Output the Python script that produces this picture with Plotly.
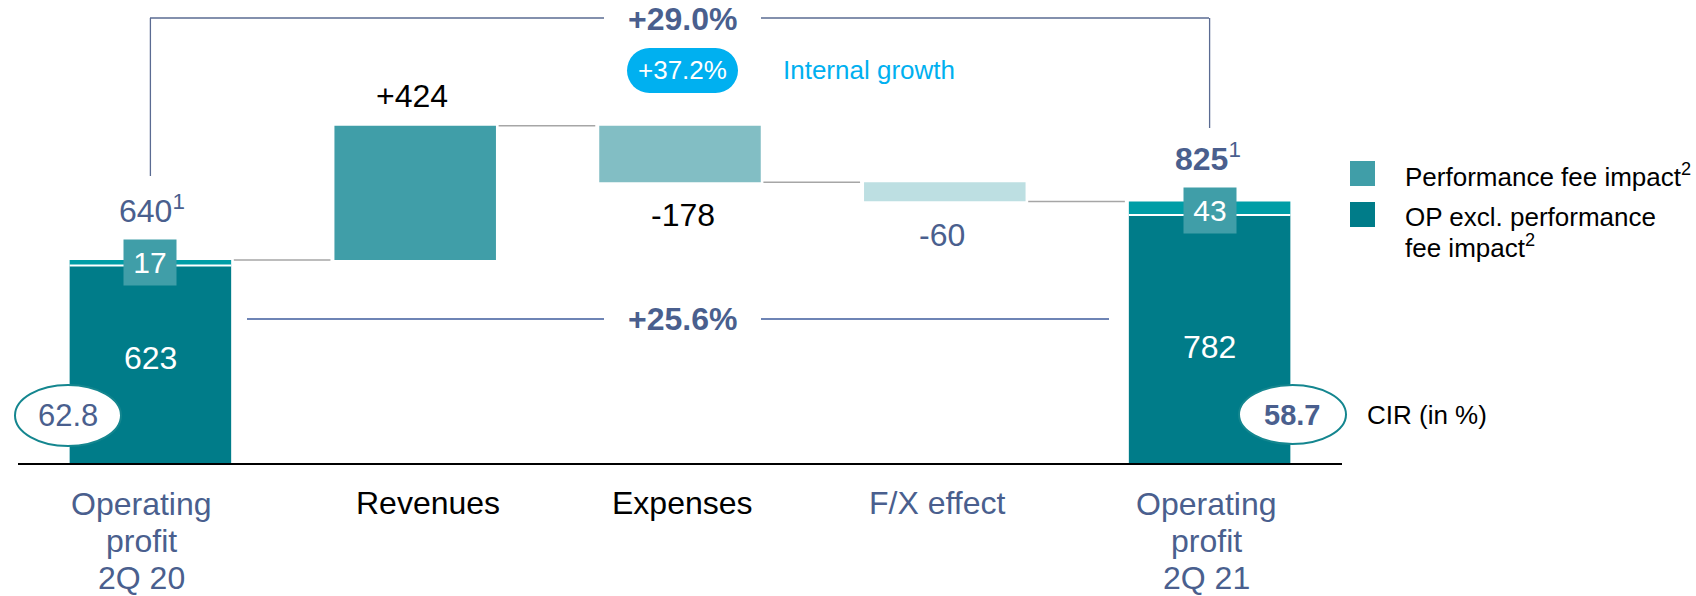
"""Operating profit bridge 2Q 20 -> 2Q 21 (waterfall with CIR bubbles)."""
import plotly.graph_objects as go

# ---- data -----------------------------------------------------------------
categories = ["OP 2Q 20", "Revenues", "Expenses", "F/X effect", "OP 2Q 21"]
label_lines = [
    ["Operating", "profit", "2Q 20"],
    ["Revenues"],
    ["Expenses"],
    ["F/X effect"],
    ["Operating", "profit", "2Q 21"],
]
op_excl_fee = [623, 782]          # OP excl. performance fee impact
perf_fee = [17, 43]               # performance fee impact
op_total = [640, 825]
deltas = [424, -178, -60]         # revenues, expenses, F/X
delta_text = ["+424", "-178", "-60"]
cir = [62.8, 58.7]
growth_total = "+29.0%"
growth_excl_fee = "+25.6%"
growth_internal = "+37.2%"

# ---- style ----------------------------------------------------------------
FONT = "Liberation Sans, Arial, sans-serif"
SLATE = "#4A5F8E"
DARK_TEAL = "#007C89"
STRIPE = "#009DA6"
MID_TEAL = "#409EA8"
DELTA_COLORS = ["#409EA8", "#82BEC4", "#BDDFE2"]
CYAN = "#00B0F0"
LABEL_COLORS = [SLATE, "#000000", "#000000", SLATE, SLATE]

W, H = 1696, 596
L, R, T, B = 18, 354, 0, 133
PW, PH = W - L - R, H - T - B
K = 0.317                       # pixels per EUR m
YMAX = PH / K
BAR_W = 0.61


def px(x):
    return (x - L) / PW


def py(y):
    return (H - B - y) / PH


fig = go.Figure()

# totals (stacked)
tot_x = [0, 4]
fig.add_trace(go.Bar(x=tot_x, y=op_excl_fee, base=[0, 0], width=BAR_W,
                     marker=dict(color=DARK_TEAL, line_width=0)))
fig.add_trace(go.Bar(x=tot_x, y=perf_fee, base=op_excl_fee, width=BAR_W,
                     marker=dict(color=STRIPE, line_width=0)))

# floating deltas
level = op_total[0]
levels = [level]
for i, d in enumerate(deltas):
    lo, hi = sorted([level, level + d])
    fig.add_trace(go.Bar(x=[i + 1], y=[hi - lo], base=[lo], width=BAR_W,
                         marker=dict(color=DELTA_COLORS[i], line_width=0)))
    level += d
    levels.append(level)
levels[-1] = op_total[1]

shapes = []
# white separator between stacked parts
for xi, v in zip(tot_x, op_excl_fee):
    shapes.append(dict(type="line", xref="x", yref="y", x0=xi - BAR_W / 2, x1=xi + BAR_W / 2,
                       y0=v, y1=v, line=dict(color="white", width=2)))
# connectors
for i, v in enumerate(levels):
    shapes.append(dict(type="line", xref="x", yref="y", x0=i + BAR_W / 2 + 0.01,
                       x1=i + 1 - BAR_W / 2 - 0.015, y0=v, y1=v,
                       line=dict(color="#A6A6A6", width=1.5)))

# +29.0% bracket
br_col = "#5A6B92"
shapes += [
    dict(type="line", xref="x", yref="paper", x0=0, x1=0, y0=py(176), y1=py(18),
         line=dict(color=br_col, width=1.3)),
    dict(type="line", xref="x", yref="paper", x0=4, x1=4, y0=py(128), y1=py(18),
         line=dict(color=br_col, width=1.3)),
    dict(type="line", xref="paper", yref="paper", x0=px(150), x1=px(604), y0=py(18), y1=py(18),
         line=dict(color=br_col, width=1.3)),
    dict(type="line", xref="paper", yref="paper", x0=px(761), x1=px(1209), y0=py(18), y1=py(18),
         line=dict(color=br_col, width=1.3)),
]
# +25.6% line
shapes += [
    dict(type="line", xref="paper", yref="paper", x0=px(247), x1=px(604), y0=py(319), y1=py(319),
         line=dict(color="#6E84B5", width=2)),
    dict(type="line", xref="paper", yref="paper", x0=px(761), x1=px(1109), y0=py(319), y1=py(319),
         line=dict(color="#6E84B5", width=2)),
]
# internal growth pill
shapes += [
    dict(type="circle", xref="paper", yref="paper", x0=px(627), x1=px(672), y0=py(48), y1=py(93),
         fillcolor=CYAN, line_width=0),
    dict(type="circle", xref="paper", yref="paper", x0=px(693), x1=px(738), y0=py(48), y1=py(93),
         fillcolor=CYAN, line_width=0),
    dict(type="rect", xref="paper", yref="paper", x0=px(649.5), x1=px(715.5), y0=py(48), y1=py(93),
         fillcolor=CYAN, line_width=0),
]
# CIR ellipses
for (x0, x1, y0, y1) in [(15, 121, 385, 446), (1239, 1346, 385, 444)]:
    shapes.append(dict(type="circle", xref="paper", yref="paper", x0=px(x0), x1=px(x1),
                       y0=py(y0), y1=py(y1), fillcolor="white",
                       line=dict(color="#14868F", width=2)))
# legend swatches
for (y0, y1), col in zip([(161, 186), (202, 227)], [MID_TEAL, DARK_TEAL]):
    shapes.append(dict(type="rect", xref="paper", yref="paper", x0=px(1350), x1=px(1375),
                       y0=py(y0), y1=py(y1), fillcolor=col, line_width=0))

ann = []


def text(x, y, s, size=32, color="#000000", xref="paper", yref="paper",
         xanchor="center", yanchor="middle", **kw):
    ann.append(dict(x=x, y=y, xref=xref, yref=yref, text=s, showarrow=False,
                    xanchor=xanchor, yanchor=yanchor,
                    font=dict(family=FONT, size=size, color=color), **kw))


# category labels
label_dx = [-9, 13, 2, -8, -3]
for i, lines in enumerate(label_lines):
    ys = [503] if len(lines) == 1 else [504, 541, 578]
    for line, yy in zip(lines, ys):
        text(i, py(yy), line, color=LABEL_COLORS[i], xref="x", xshift=label_dx[i])

# delta values
delta_shift = [30, -33, -34]
delta_cols = ["#000000", "#000000", SLATE]
for i, d in enumerate(deltas):
    yv = levels[i] + d
    text(i + 1, yv, delta_text[i], color=delta_cols[i], xref="x", yref="y",
         yshift=delta_shift[i], xshift=-3 if i != 1 else 3)

# totals
text(0, op_total[0], f"{op_total[0]}<sup>1</sup>", color=SLATE, xref="x", yref="y", yshift=51, xshift=2)
text(4, op_total[1], f"<b>{op_total[1]}</b><sup>1</sup>", color=SLATE, xref="x", yref="y", yshift=44, xshift=-2)
text(0, op_excl_fee[0] / 2, str(op_excl_fee[0]), color="white", xref="x", yref="y", yshift=6)
text(4, op_excl_fee[1] / 2, str(op_excl_fee[1]), color="white", xref="x", yref="y", yshift=-8)
# performance fee boxes
for xi, v, f, ys in zip(tot_x, op_total, perf_fee, [-2, -9]):
    text(xi, v, str(f), size=30, color="white", xref="x", yref="y", yshift=ys,
         bgcolor=MID_TEAL, width=52, height=45, borderpad=0)

# growth figures
text(px(683), py(19), f"<b>{growth_total}</b>", color=SLATE)
text(px(683), py(319), f"<b>{growth_excl_fee}</b>", color=SLATE)
text(px(682.5), py(70.5), growth_internal, size=26, color="white")
text(px(781), py(70), "Internal growth", size=26, color=CYAN, xanchor="left")

# CIR
text(px(68), py(415.5), f"{cir[0]}", size=31, color=SLATE)
text(px(1292), py(414.5), f"<b>{cir[1]}</b>", size=29, color=SLATE)
text(px(1365), py(415), "CIR (in %)", size=26, xanchor="left")

# legend text
text(px(1403), py(175), "Performance fee impact<sup>2</sup>", size=26, xanchor="left")
text(px(1403), py(217), "OP excl. performance", size=26, xanchor="left")
text(px(1403), py(247), "fee impact<sup>2</sup>", size=26, xanchor="left")

fig.update_layout(
    width=W, height=H,
    margin=dict(l=L, r=R, t=T, b=B, pad=0),
    paper_bgcolor="white", plot_bgcolor="white",
    showlegend=False, barmode="overlay",
    font=dict(family=FONT),
    xaxis=dict(range=[-0.5, 4.5], showgrid=False, zeroline=False, showticklabels=False,
               showline=True, linecolor="#000000", linewidth=1.5, ticks=""),
    yaxis=dict(range=[0, YMAX], visible=False),
    shapes=shapes, annotations=ann,
)

fig.write_html("out.html", config={"displayModeBar": False},
               post_script="document.body.style.margin='0';")
